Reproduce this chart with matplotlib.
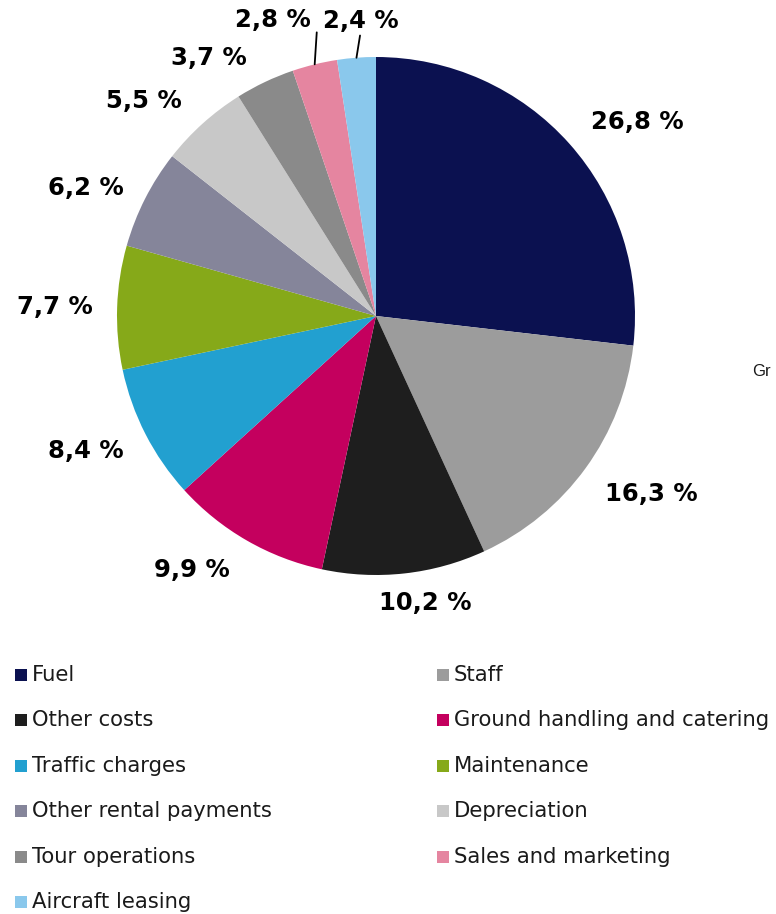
#!/usr/bin/env python3
"""Cost breakdown pie with an external two-column key."""

import numpy as np
import matplotlib.pyplot as plt
from matplotlib.patches import Rectangle

categories = [
    "Fuel", "Staff", "Other costs", "Ground handling and catering",
    "Traffic charges", "Maintenance", "Other rental payments", "Depreciation",
    "Tour operations", "Sales and marketing", "Aircraft leasing",
]
shares = [26.8, 16.3, 10.2, 9.9, 8.4, 7.7, 6.2, 5.5, 3.7, 2.8, 2.4]
colors = [
    "#0b1150", "#9c9c9c", "#1e1e1e", "#c4005e", "#22a0d0", "#86a919",
    "#85859a", "#c8c8c8", "#8a8a8a", "#e585a0", "#8ac8ec",
]

W, H = 776, 914
CX, CY, R = 376, 316, 259

plt.rcParams["font.family"] = "DejaVu Sans"

fig = plt.figure(figsize=(W / 100, H / 100), dpi=100)

# background axes in pixel units for the key and stray text
bg = fig.add_axes([0, 0, 1, 1])
bg.set_xlim(0, W)
bg.set_ylim(H, 0)
bg.axis("off")

ax = fig.add_axes([(CX - R) / W, 1 - (CY + R) / H, 2 * R / W, 2 * R / H])
wedges, _ = ax.pie(shares, colors=colors, startangle=90, counterclock=False,
                   radius=1.0, wedgeprops=dict(linewidth=0))
ax.set_xlim(-1, 1)
ax.set_ylim(-1, 1)

# labels sit just outside the rim, anchored on the side facing the pie;
# a few get a small pixel nudge, the two thinnest slices get leader lines
nudge = {0: (4, -6), 2: (18, 6), 3: (-5, 3), 4: (0, 6), 6: (0, -12),
         7: (-5, -7), 8: (-8, -10)}
leader = {9: ((-4, 32), "right", (1.08, 0)), 10: ((4, 25), "center", (0.5, 0))}
LABEL_SIZE = 17.5
gap = 24
for i, (w, v) in enumerate(zip(wedges, shares)):
    ang = np.deg2rad((w.theta1 + w.theta2) / 2)
    c, s = np.cos(ang), np.sin(ang)
    txt = f"{v:.1f} %".replace(".", ",")
    xy = (c, s)
    if i in leader:
        off, ha, rel = leader[i]
        ax.annotate(txt, xy=xy, xytext=off, textcoords="offset pixels",
                    ha=ha, va="bottom", fontsize=LABEL_SIZE, fontweight="bold",
                    arrowprops=dict(arrowstyle="-", color="black", lw=1.3,
                                    shrinkA=0, shrinkB=0, relpos=rel))
        continue
    ha = "left" if c > 0.3 else ("right" if c < -0.3 else "center")
    va = "bottom" if s > 0.3 else ("top" if s < -0.3 else "center")
    dx, dy = nudge.get(i, (0, 0))
    ax.annotate(txt, xy=xy, xytext=(gap * c + dx, gap * s + dy),
                textcoords="offset pixels", ha=ha, va=va,
                fontsize=LABEL_SIZE, fontweight="bold")

# two-column key, filled row by row
row0, row_step = 675, 45.4
col_x = [15, 437]
for i, (name, col) in enumerate(zip(categories, colors)):
    x = col_x[i % 2]
    y = row0 + (i // 2) * row_step
    bg.add_patch(Rectangle((x, y - 6), 12, 12, facecolor=col, edgecolor="none"))
    bg.text(x + 17, y, name, fontsize=15.2, va="center", ha="left", color="#1a1a1a")

bg.text(752, 372, "Gr", fontsize=12, family="Liberation Sans", va="center",
        ha="left", color="#1a1a1a")

fig.savefig("out.png", dpi=100)
